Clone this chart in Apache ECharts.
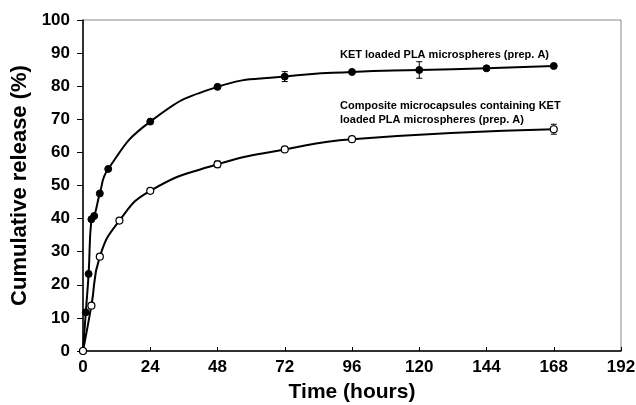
<!DOCTYPE html>
<html>
<head>
<meta charset="utf-8">
<script src="https://cdn.jsdelivr.net/npm/echarts@6/dist/echarts.min.js"></script>
<style>
html, body { margin: 0; background: #fff; }
#chart { width: 636px; height: 405px; }
</style>
</head>
<body>
<div id="chart"></div>
<script>
// KET loaded PLA microspheres (prep. A)
const hoursA = [0, 1, 2, 3, 4, 6, 9, 24, 48, 72, 96, 120, 144, 168];
const releaseA = [0, 11.7, 23.3, 39.8, 40.8, 47.6, 55.0, 69.3, 79.8, 82.9, 84.3, 84.9, 85.4, 86.1];
const errA = [0, 0, 0, 0, 0, 0, 0, 0, 0.5, 1.5, 0.4, 2.5, 0.3, 0.3];

// Composite microcapsules containing KET loaded PLA microspheres (prep. A)
const hoursB = [0, 3, 6, 13, 24, 48, 72, 96, 168];
const releaseB = [0, 13.7, 28.5, 39.4, 48.4, 56.4, 60.9, 64.0, 67.0];
const errB = [0, 0, 0, 0, 0.4, 1.0, 0.3, 0.3, 1.5];

const xTicks = [0, 24, 48, 72, 96, 120, 144, 168, 192];
const yTicks = [0, 10, 20, 30, 40, 50, 60, 70, 80, 90, 100];

const labelA = 'KET loaded PLA microspheres (prep. A)';
const labelB = 'Composite microcapsules containing KET\nloaded PLA microspheres (prep. A)';

const font = 'Liberation Sans, Arial, sans-serif';

const pairs = (xs, ys) => xs.map((x, i) => [x, ys[i]]);
const errRows = (xs, ys, es) => xs.map((x, i) => [x, ys[i] - es[i], ys[i] + es[i]]).filter((r, i) => es[i] > 0);

// error bars drawn with the axis scales
const errBar = (params, api) => {
  const lo = api.coord([api.value(0), api.value(1)]);
  const hi = api.coord([api.value(0), api.value(2)]);
  const w = 3;
  const st = { stroke: '#000', lineWidth: 1 };
  return {
    type: 'group',
    children: [
      { type: 'line', shape: { x1: lo[0], y1: lo[1], x2: hi[0], y2: hi[1] }, style: st },
      { type: 'line', shape: { x1: lo[0] - w, y1: lo[1], x2: lo[0] + w, y2: lo[1] }, style: st },
      { type: 'line', shape: { x1: hi[0] - w, y1: hi[1], x2: hi[0] + w, y2: hi[1] }, style: st },
    ],
  };
};

let chart = echarts.init(document.getElementById('chart'));

chart.setOption({
  animation: false,
  grid: {
    left: 83,
    right: 15,
    top: 20,
    bottom: 54,
    outerBoundsMode: 'none',
    show: true,
    borderColor: '#888',
    borderWidth: 1,
  },
  xAxis: {
    type: 'value',
    min: 0,
    max: 192,
    interval: 24,
    name: 'Time (hours)',
    nameLocation: 'middle',
    nameGap: 31,
    nameTextStyle: { fontFamily: font, fontWeight: 'bold', fontSize: 21, color: '#000' },
    axisLine: { lineStyle: { color: '#000', width: 1.5 } },
    axisTick: { inside: true, length: 4, lineStyle: { color: '#000' } },
    axisLabel: {
      margin: 8,
      fontFamily: font,
      fontWeight: 'bold',
      fontSize: 17,
      color: '#000',
      formatter: (v) => (xTicks.includes(v) ? String(v) : ''),
    },
    splitLine: { show: false },
  },
  yAxis: {
    type: 'value',
    min: 0,
    max: 100,
    interval: 10,
    name: 'Cumulative release (%)',
    nameLocation: 'middle',
    nameGap: 45,
    nameTextStyle: { fontFamily: font, fontWeight: 'bold', fontSize: 22, color: '#000' },
    axisLine: { show: true, lineStyle: { color: '#000', width: 1.5 } },
    axisTick: { show: true, length: 6, lineStyle: { color: '#000' } },
    axisLabel: {
      margin: 13,
      fontFamily: font,
      fontWeight: 'bold',
      fontSize: 17,
      color: '#000',
      formatter: (v) => (yTicks.includes(v) ? String(v) : ''),
    },
    splitLine: { show: false },
  },
  graphic: [
    {
      type: 'text',
      left: 340,
      top: 49,
      style: { text: labelA, font: 'bold 11px ' + font, fill: '#000' },
    },
    {
      type: 'text',
      left: 340,
      top: 99,
      style: { text: labelB, font: 'bold 11px ' + font, fill: '#000', lineHeight: 14 },
    },
  ],
  series: [
    {
      type: 'line',
      data: pairs(hoursA, releaseA),
      smooth: 0.5,
      symbol: 'circle',
      symbolSize: 7,
      lineStyle: { color: '#000', width: 2 },
      itemStyle: { color: '#000', borderColor: '#000' },
      z: 3,
    },
    {
      type: 'line',
      data: pairs(hoursB, releaseB),
      smooth: 0.5,
      symbol: 'circle',
      symbolSize: 7,
      showAllSymbol: true,
      lineStyle: { color: '#000', width: 2 },
      itemStyle: { color: '#fff', borderColor: '#000', borderWidth: 1.2 },
      z: 3,
    },
    {
      type: 'custom',
      renderItem: errBar,
      data: errRows(hoursA, releaseA, errA),
      z: 2,
    },
    {
      type: 'custom',
      renderItem: errBar,
      data: errRows(hoursB, releaseB, errB),
      z: 2,
    },
  ],
});
</script>
</body>
</html>
